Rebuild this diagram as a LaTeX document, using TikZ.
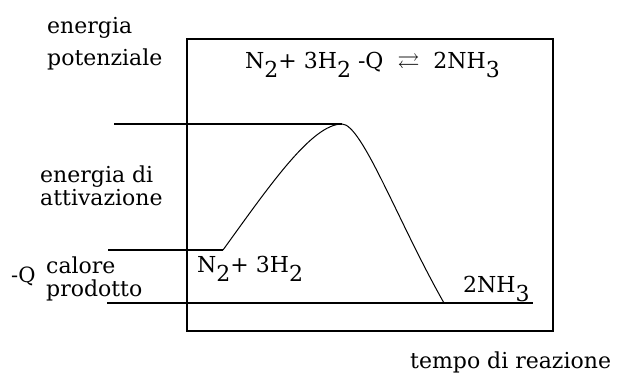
\documentclass[tikz,border=0pt]{standalone}
\usepackage{amssymb}
\usepackage{fontspec}
\setmainfont{DejaVu Serif}
\newcommand{\dn}[1]{\raisebox{-0.42em}{#1}}

\begin{document}
\begin{tikzpicture}[x=1pt, y=-1pt,
    lbl/.style={anchor=base west, inner sep=0pt, align=left, font=\fontsize{22}{23}\selectfont},
    lvl/.style={line width=1.6pt},
    frame/.style={line width=1.6pt},
    path/.style={line width=1pt}]

    \useasboundingbox (0,0) rectangle (628,376);

    % Frame of the diagram
    \draw[frame] (187,39) rectangle (553,331);

    % Energy levels
    \coordinate (ts) at (114,124);
    \coordinate (pk) at (342,124);
    \coordinate (rs) at (108,250);
    \coordinate (re) at (223,250);
    \coordinate (ps) at (107,303);
    \coordinate (pe) at (533,303);
    \coordinate (cb) at (444,303);

    \draw[lvl] (ts) -- (pk);
    \draw[lvl] (rs) -- (re);
    \draw[lvl] (ps) -- (pe);

    % Reaction path
    \draw[path] (re) .. controls (270,185) and (312,124) .. (pk)
        .. controls (362,124) and (398,222) .. (cb);

    % Labels (base = last line)
    \node[lbl] (potlbl) at (47,65) {energia\\[9pt]potenziale};
    \node[lbl] (eqn) at (245,68) {N\dn{2}+ 3H\dn{2} -Q \ $\rightleftarrows$ \ 2NH\dn{3}};
    \node[lbl] (attlbl) at (40,205) {energia di\\attivazione};
    \node[lbl, font=\fontsize{21}{22}\selectfont] (qlbl) at (11,282) {-Q};
    \node[lbl] (callbl) at (46,296) {calore\\prodotto};
    \node[lbl] (reactlbl) at (197,272) {N\dn{2}+ 3H\dn{2}};
    \node[lbl] (prodlbl) at (463,292) {2NH\dn{3}};
    \node[lbl] (timelbl) at (410,368) {tempo di reazione};

\end{tikzpicture}
\end{document}
